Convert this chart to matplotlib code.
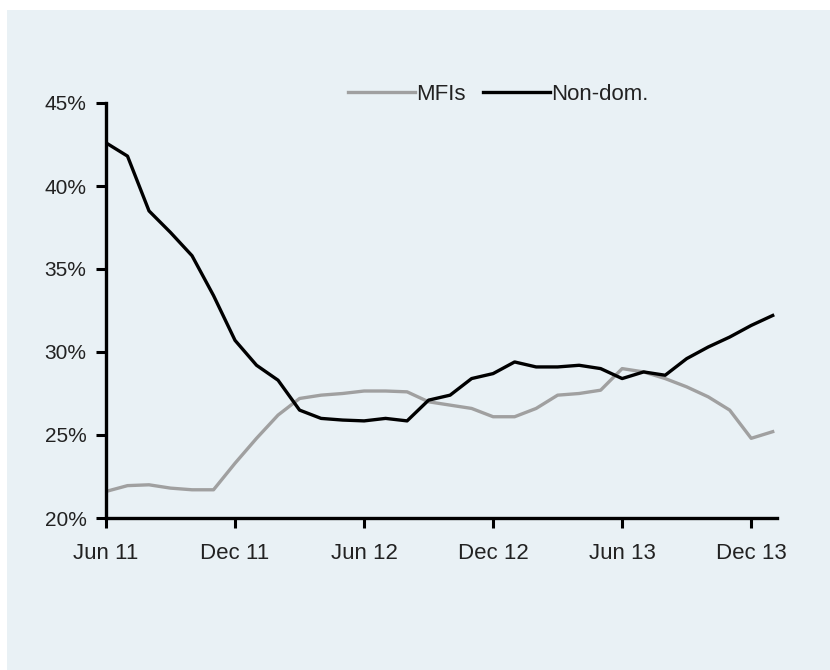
import matplotlib as mpl
mpl.use("Agg")
import matplotlib.pyplot as plt
from matplotlib.patches import Rectangle

mpl.rcParams.update({"font.family": ["Liberation Sans", "DejaVu Sans"]})

# months since Jun 2011
months = list(range(32))
tick_pos = [0, 6, 12, 18, 24, 30]
tick_labels = ["Jun 11", "Dec 11", "Jun 12", "Dec 12", "Jun 13", "Dec 13"]

mfis = [21.6, 21.95, 22.0, 21.8, 21.7, 21.7, 23.3, 24.8, 26.2, 27.2, 27.4, 27.5,
        27.65, 27.65, 27.6, 27.0, 26.8, 26.6, 26.1, 26.1, 26.6, 27.4, 27.5, 27.7,
        29.0, 28.8, 28.4, 27.9, 27.3, 26.5, 24.8, 25.2]
non_dom = [42.6, 41.8, 38.5, 37.2, 35.8, 33.4, 30.7, 29.2, 28.3, 26.5, 26.0, 25.9,
           25.85, 26.0, 25.85, 27.1, 27.4, 28.4, 28.7, 29.4, 29.1, 29.1, 29.2, 29.0,
           28.4, 28.8, 28.6, 29.6, 30.3, 30.9, 31.6, 32.2]

BG = "#E9F1F5"

fig = plt.figure(figsize=(8.3, 6.7), dpi=100, facecolor="white")
fig.patches.append(Rectangle((7 / 830, 0), 1, 1 - 10 / 670, transform=fig.transFigure,
                             facecolor=BG, edgecolor="none", zorder=-1))

ax = fig.add_axes([106 / 830, 1 - 518 / 670, (777 - 106) / 830, (518 - 103) / 670])
ax.set_facecolor(BG)
ax.plot(months, mfis, color="#A0A0A0", lw=2.4, label="MFIs", solid_joinstyle="round")
ax.plot(months, non_dom, color="black", lw=2.4, label="Non-dom.", solid_joinstyle="round")

ax.set_xlim(0, 31.2)
ax.set_ylim(20, 45)
ax.set_yticks([20, 25, 30, 35, 40, 45])
ax.set_yticklabels([f"{v}%" for v in [20, 25, 30, 35, 40, 45]])
ax.set_xticks(tick_pos)
ax.set_xticklabels(tick_labels)

for s in ["top", "right"]:
    ax.spines[s].set_visible(False)
for s in ["left", "bottom"]:
    ax.spines[s].set_linewidth(2.4)
    ax.spines[s].set_color("black")
ax.tick_params(axis="both", direction="out", length=7, width=2.2, colors="black",
               labelcolor="#222222")
ax.tick_params(axis="y", pad=7, labelsize=15)
ax.tick_params(axis="x", pad=11, labelsize=16)

fig.legend(loc="center", bbox_to_anchor=(498 / 830, 1 - 94 / 670), ncol=2, frameon=False,
           fontsize=16, handlelength=3.0, handletextpad=0.05, columnspacing=0.8,
           labelcolor="#222222")

fig.savefig("out.png", dpi=100, facecolor="white")
